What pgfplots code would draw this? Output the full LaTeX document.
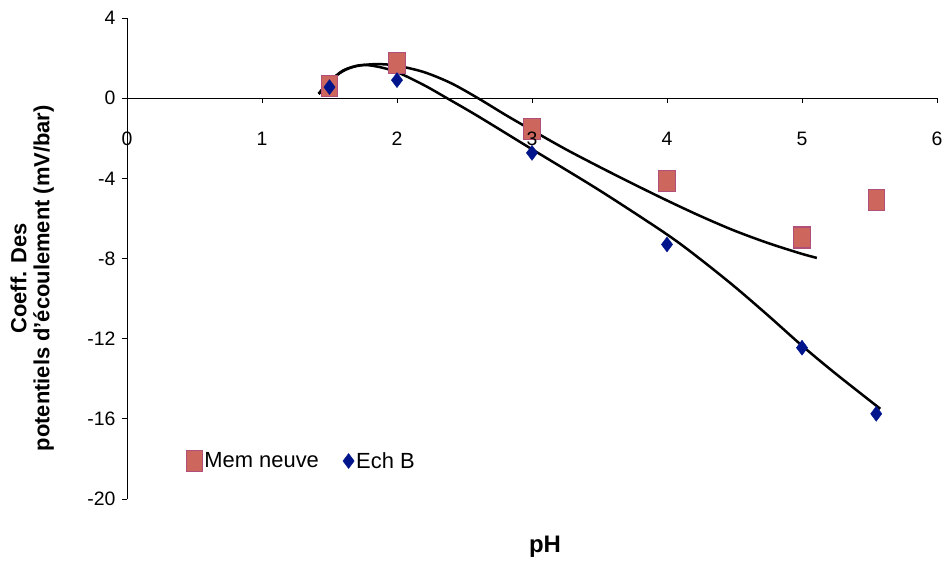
\documentclass[border=0pt]{standalone}
\usepackage{fontspec}
\setmainfont{Liberation Sans}
\usepackage{pgfplots}
\pgfplotsset{compat=1.18}

\definecolor{memfill}{RGB}{205,102,92}
\definecolor{memdraw}{RGB}{176,80,122}
\definecolor{echb}{RGB}{0,20,140}

\begin{document}
\begin{tikzpicture}
\useasboundingbox (-127bp,-68bp) rectangle (817bp,499bp);
% main axis: y axis, data and trend lines
\begin{axis}[
  at={(0,0)}, anchor=south west,
  scale only axis, width=810bp, height=481bp,
  xmin=0, xmax=6, ymin=-20, ymax=4,
  axis x line=none, axis y line*=left,
  ytick={-20,-16,-12,-8,-4,0,4},
  tick align=outside, major tick length=5bp,
  tick style={black, line width=0.8bp},
  axis line style={black, line width=0.8bp},
  /pgf/number format/assume math mode=true,
  yticklabel style={font=\fontsize{19.5}{21}\selectfont, xshift=-3bp},
  ylabel={Coeff. Des\\potentiels d'écoulement (mV/bar)},
  ylabel style={align=center, font=\bfseries\fontsize{22}{23}\selectfont,
    at={(axis description cs:-0.117,0.459)}, anchor=center},
  legend style={at={(axis description cs:0.069,0.079)}, anchor=west,
    draw=none, fill=none, legend columns=2,
    font=\fontsize{22}{24}\selectfont,
    /tikz/every even column/.append style={column sep=22bp}},
  legend cell align=left,
]
\addplot[only marks, mark=square*, mark size=10.5bp,
  mark options={fill=memfill, draw=memdraw, line width=1.1bp, xscale=0.78}]
  coordinates {(1.5,0.6) (2,1.76) (3,-1.56) (4,-4.13) (5,-6.95) (5.55,-5.09)};
\addlegendentry{Mem neuve}
\addplot[only marks, mark=diamond*, mark size=7.5bp,
  mark options={fill=echb, draw=echb}]
  coordinates {(1.5,0.55) (2,0.9) (3,-2.73) (4,-7.3) (5,-12.45) (5.55,-15.75)};
\addlegendentry{Ech B}
\addplot[black, line width=2.5bp, smooth, tension=0.5, forget plot] coordinates {
 (1.42,0.23) (1.5,0.85) (1.6,1.35) (1.7,1.6) (1.85,1.7) (2.0,1.62) (2.2,1.3)
 (2.4,0.75) (2.6,0.0) (2.8,-0.82) (3.0,-1.6) (3.25,-2.55) (3.5,-3.43)
 (3.75,-4.28) (4.0,-5.105) (4.24,-5.86) (4.49,-6.585) (4.74,-7.21) (4.985,-7.74) (5.11,-7.97)};
\addplot[black, line width=2.5bp, smooth, tension=0.5, forget plot] coordinates {
 (1.42,0.2) (1.5,0.8) (1.6,1.38) (1.73,1.65) (1.85,1.58) (2.0,1.3) (2.2,0.65)
 (2.37,0.0) (2.6,-0.9) (3.0,-2.55) (3.5,-4.6) (4.0,-6.8) (4.25,-8.05)
 (4.5,-9.4) (4.75,-10.85) (5.0,-12.35) (5.25,-13.75) (5.58,-15.5)};
\end{axis}
% x axis drawn at y = 0 (bottom line of an axis whose range is 0..4)
\begin{axis}[
  at={(0,400.833bp)}, anchor=south west,
  scale only axis, width=810bp, height=80.167bp,
  xmin=0, xmax=6, ymin=0, ymax=4,
  axis x line*=bottom, axis y line=none,
  xtick={0,1,2,3,4,5,6},
  tick align=outside, major tick length=5bp,
  tick style={black, line width=0.8bp},
  axis line style={black, line width=0.8bp},
  /pgf/number format/assume math mode=true,
  xticklabel style={font=\fontsize{19.5}{21}\selectfont, yshift=-25bp},
  xlabel={pH},
  xlabel style={font=\bfseries\fontsize{24}{26}\selectfont,
    at={(axis description cs:0.516,-5.59)}, anchor=center},
]
\end{axis}
\end{tikzpicture}
\end{document}
